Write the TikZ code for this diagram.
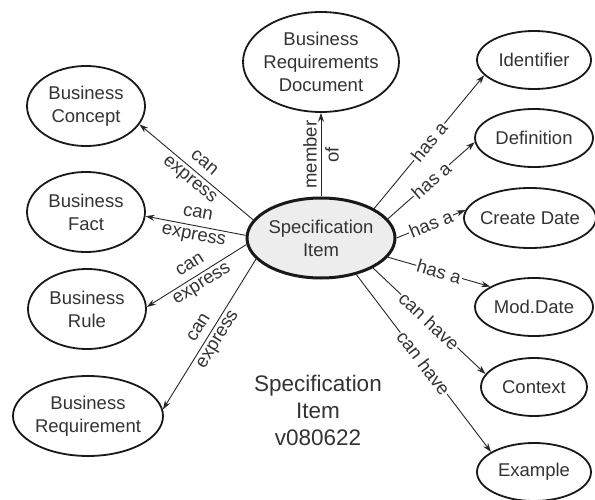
\documentclass[tikz,border=0pt]{standalone}
\usepackage{fontspec}
\setmainfont{Liberation Sans}
\usetikzlibrary{shapes.geometric,arrows.meta}
\begin{document}
\begin{tikzpicture}[x=1pt,y=-1pt,
  ent/.style={ellipse,draw=black!90,line width=1.8pt,inner sep=-5pt,align=center,
    text=black!80,font=\fontsize{18.5}{23}\selectfont},
  hub/.style={ent,line width=3pt,fill=black!7},
  rel/.style={draw=black!85,line width=0.9pt,-{Stealth[length=9pt,width=6pt]}},
  lab/.style={sloped,midway,align=center,inner sep=1pt,text=black!80,
    font=\fontsize{18.5}{22}\selectfont},
  tag/.style={lab,fill=white}
]
\useasboundingbox (0,0) rectangle (595,500);

% central item
\node[hub,minimum width=148pt,minimum height=80pt] (c) at (321,238) {Specification\\Item};

% container document
\node[ent,minimum width=156pt,minimum height=100pt] (doc) at (321,62) {Business\\Requirements\\Document};

% things an item can express
\node[ent,minimum width=118pt,minimum height=80pt] (bc) at (86,106) {Business\\Concept};
\node[ent,minimum width=118pt,minimum height=80pt] (bf) at (86,212) {Business\\Fact};
\node[ent,minimum width=118pt,minimum height=80pt] (br) at (87,309) {Business\\Rule};
\node[ent,minimum width=150pt,minimum height=80pt] (bq) at (88,416) {Business\\Requirement};

% attributes
\node[ent,minimum width=114pt,minimum height=58pt] (id)  at (534,60)  {Identifier};
\node[ent,minimum width=118pt,minimum height=58pt] (def) at (534,138) {Definition};
\node[ent,minimum width=132pt,minimum height=60pt] (cd)  at (530,218) {Create Date};
\node[ent,minimum width=118pt,minimum height=58pt] (md)  at (534,307) {Mod.Date};
\node[ent,minimum width=106pt,minimum height=58pt] (ctx) at (534,387) {Context};
\node[ent,minimum width=114pt,minimum height=58pt] (ex)  at (534,472) {Example};

% caption
\node[align=center,text=black!80,font=\fontsize{22.5}{27}\selectfont] (cap) at (318,410)
  {Specification\\Item\\v080622};

% relations
\draw[rel] (c.90) -- node[lab]{member\\of} (doc.270);
\draw[rel] (c.165) -- node[lab]{can\\express} (bc.-19);
\draw[rel] (c.178) -- node[lab]{can\\express} (bf.-4);
\draw[rel] (c.185) -- node[lab]{can\\express} (br.2);
\draw[rel] (c.198) -- node[lab]{can\\express} (bq.5);
\draw[rel] (c.29)  -- node[tag]{has a} (id.197);
\draw[rel] (c.16)  -- node[tag]{has a} (def.184);
\draw[rel] (c.0)   -- node[tag]{has a} (cd.173);
\draw[rel] (c.-16) -- node[tag]{has a} (md.155);
\draw[rel] (c.-30) -- node[tag]{can have} (ctx.165);
\draw[rel] (c.-46) -- node[tag]{can have} (ex.155);
\end{tikzpicture}
\end{document}
